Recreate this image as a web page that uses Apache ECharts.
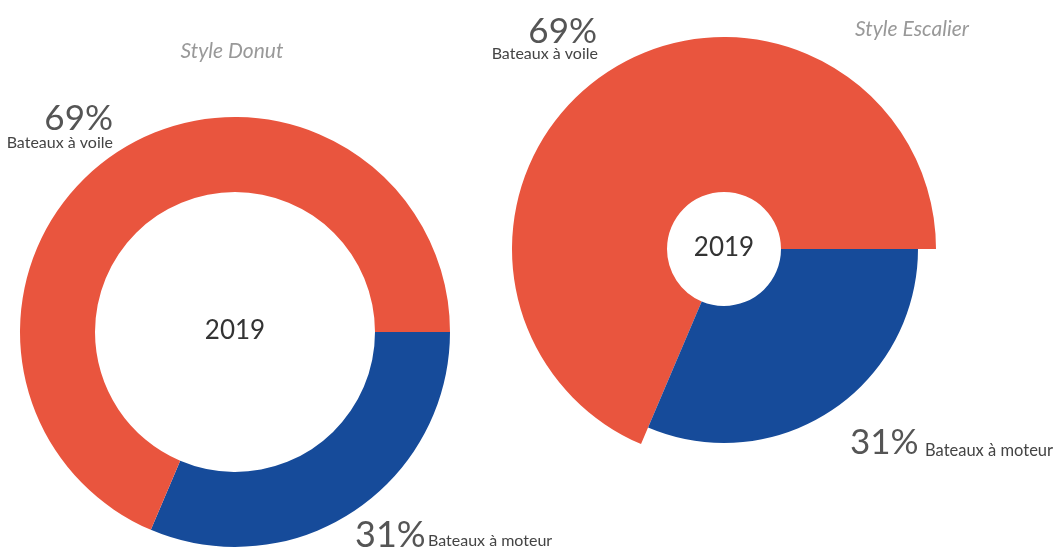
<!DOCTYPE html>
<html>
<head>
<meta charset="utf-8">
<script src="https://cdn.jsdelivr.net/npm/echarts@6/dist/echarts.min.js"></script>
<style>
  html, body { margin: 0; padding: 0; background: #fff; }
  #chart { width: 1056px; height: 548px; }
</style>
</head>
<body>
<div id="chart"></div>
<script>
// donnees
var categories = ['Bateaux à moteur', 'Bateaux à voile'];
var shares = [31.4, 68.6];
var year = '2019';
var titles = ['Style Donut', 'Style Escalier'];
var colors = ['#164b9a', '#e9553e'];

var chart = echarts.init(document.getElementById('chart'));
var font = 'Lato, "Open Sans", sans-serif';

function pieData(keep)
{
	return categories.map(function (c, i) {
		var show = keep == null || keep == i;
		return {
			name: c,
			value: shares[i],
			itemStyle: { color: show ? colors[i] : 'rgba(0,0,0,0)' }
		};
	});
}

var basePie = {
	type: 'pie',
	startAngle: 0,
	clockwise: true,
	silent: true,
	label: { show: false },
	labelLine: { show: false },
	emphasis: { disabled: true },
	itemStyle: { borderWidth: 0 }
};

function txt(text, x, y, size, align, color, style)
{
	return {
		type: 'text', x: x, y: y, silent: true,
		style: {
			text: text, fontFamily: font, fontSize: size, fill: color,
			fontStyle: style || 'normal',
			textAlign: align, textVerticalAlign: 'middle'
		}
	};
}

var pct = shares.map(function (v) { return Math.round(v) + '%'; });

var option = {
	backgroundColor: '#fff',
	animation: false,
	series: [
		Object.assign({}, basePie, { center: [235, 332], radius: [140, 215], data: pieData() }),
		Object.assign({}, basePie, { center: [724, 249], radius: [57, 212], data: pieData(1) }),
		Object.assign({}, basePie, { center: [724, 249], radius: [57, 194], data: pieData(0) })
	],
	graphic: [
		txt(titles[0], 232, 51, 21, 'center', '#999', 'italic'),
		txt(titles[1], 912, 29, 21, 'center', '#999', 'italic'),
		txt(year, 235, 331, 26, 'center', '#333'),
		txt(year, 724, 248, 26, 'center', '#333'),
		// donut
		txt(pct[1], 113, 119, 35, 'right', '#555'),
		txt(categories[1], 113, 143, 16, 'right', '#444'),
		txt(pct[0], 355, 535, 36, 'left', '#555'),
		txt(categories[0], 428, 541, 16, 'left', '#444'),
		// escalier
		txt(pct[1], 597, 32, 35, 'right', '#555'),
		txt(categories[1], 598, 54, 16, 'right', '#444'),
		txt(pct[0], 850, 443, 35, 'left', '#555'),
		txt(categories[0], 925, 451, 16.5, 'left', '#444')
	]
};

chart.setOption(option);
</script>
</body>
</html>
